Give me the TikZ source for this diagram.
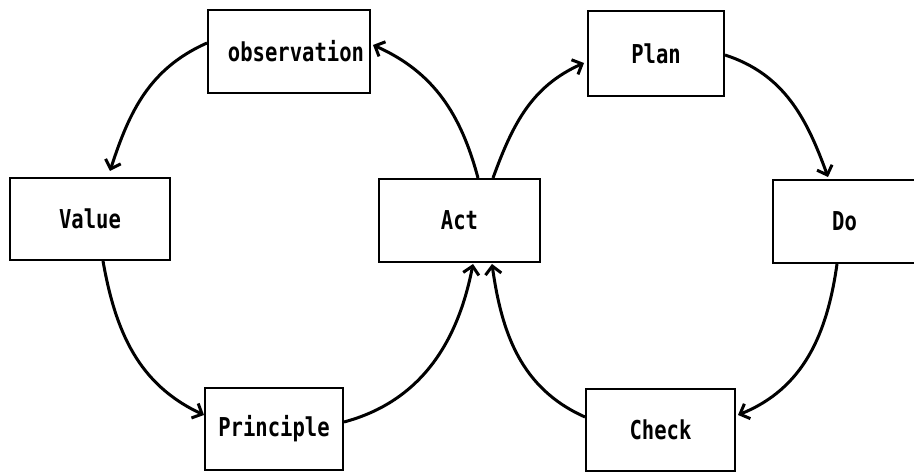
\documentclass[tikz,border=0pt]{standalone}
\usepackage{fontspec}
\newfontfamily\lblfont{DejaVu Sans Mono}[FakeStretch=0.79]
\usetikzlibrary{arrows.meta,calc}
\begin{document}
\begin{tikzpicture}[x=1pt,y=1pt,
  box/.style={draw,line width=2pt,inner sep=0pt,
    font=\lblfont\bfseries\fontsize{26}{26}\selectfont},
  conn/.style={line width=3pt,-{Straight Barb[length=8pt,width=16pt]}}]
\useasboundingbox (0,0) rectangle (914,473);
\clip (0,0) rectangle (914,473);
\node[box,minimum width=162,minimum height=83,text width=150,align=right] (obs) at (289,421.5) {observation};
\node[box,minimum width=161,minimum height=83] (act) at (459.5,252.5) {Act};
\node[box,minimum width=160,minimum height=82] (val) at (90,254) {Value};
\node[box,minimum width=138,minimum height=82] (pri) at (274,44) {Principle};
\node[box,minimum width=136,minimum height=85] (plan) at (656,419.5) {Plan};
\node[box,minimum width=143,minimum height=83] (do) at (844.5,251.5) {Do};
\node[box,minimum width=149,minimum height=82] (chk) at (660.5,43) {Check};
% left loop
\draw[conn] ($(act.north)+(18.5,0)$) to[out=105,in=-24] ($(obs.east)+(2,6.5)$);
\draw[conn] ($(obs.west)+(0,8.5)$) to[out=204,in=72] ($(val.north)+(20,6)$);
\draw[conn] ($(val.south)+(13,0)$) to[out=-80,in=155] ($(pri.west)+(0,14)$);
\draw[conn] ($(pri.east)+(0,7)$) to[out=15,in=-101] ($(act.south)+(13.5,-1)$);
% right loop
\draw[conn] ($(act.north)+(33.5,0)$) to[out=70,in=204] ($(plan.west)+(-3,-9.5)$);
\draw[conn] ($(plan.east)+(0,-1.5)$) to[out=-18,in=110] ($(do.north)+(-16.5,2)$);
\draw[conn] ($(do.south)+(-7.5,0)$) to[out=-98,in=22] ($(chk.east)+(2,15)$);
\draw[conn] ($(chk.west)+(0,13)$) to[out=156,in=-82] ($(act.south)+(32.5,-1)$);
\end{tikzpicture}
\end{document}
